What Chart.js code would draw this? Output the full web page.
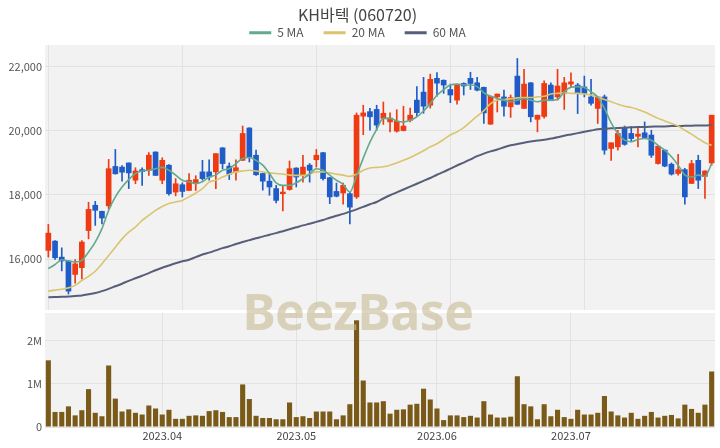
<!DOCTYPE html>
<html>
<head>
<meta charset="utf-8">
<script src="https://cdn.jsdelivr.net/npm/chart.js@4.4.1/dist/chart.umd.min.js"></script>
<style>
  html, body { margin: 0; padding: 0; background: #fff; }
  #wrap { position: relative; width: 720px; height: 448px; overflow: hidden; }
  #price { position: absolute; left: 0; top: 0; }
  #vol { position: absolute; left: 0; top: 312px; }
  #mark {
    position: absolute; left: 0; top: 280px; width: 716px; height: 62px;
    line-height: 62px; text-align: center; pointer-events: none;
    font-family: 'Noto Sans', sans-serif; font-weight: 700; font-size: 50px;
    color: rgba(200, 188, 150, 0.62); letter-spacing: -0.5px;
  }
</style>
</head>
<body>
<div id="wrap">
  <canvas id="price" width="720" height="312"></canvas>
  <canvas id="vol" width="720" height="136"></canvas>
  <div id="mark">BeezBase</div>
</div>
<script>
// Trading days, grouped by month
const marDays = [9,10,13,14,15,16,17,20,21,22,23,24,27,28,29,30,31];
const aprDays = [3,4,5,6,7,10,11,12,13,14,17,18,19,20,21,24,25,26,27,28];
const mayDays = [2,3,4,8,9,10,11,12,15,16,17,18,19,22,23,24,25,26,29,30,31];
const junDays = [1,2,5,7,8,9,12,13,14,15,16,19,20,21,22,23,26,27,28,29];
const julDays = [3,4,5,6,7,10,11,12,13,14,17,18,19,20,21,24,25,26,27,28,31];
const augDays = [1];

const pad2 = n => String(n).padStart(2, '0');
const dates = [
  ...marDays.map(d => '2023-03-' + pad2(d)),
  ...aprDays.map(d => '2023-04-' + pad2(d)),
  ...mayDays.map(d => '2023-05-' + pad2(d)),
  ...junDays.map(d => '2023-06-' + pad2(d)),
  ...julDays.map(d => '2023-07-' + pad2(d)),
  ...augDays.map(d => '2023-08-' + pad2(d))
];

// Month labels shown under the volume panel
const monthTicks = ['2023.04', '2023.05', '2023.06', '2023.07'];

// Daily OHLC (KRW)
const opens = [16270,16560,16060,15940,15520,15730,16890,17680,17490,17660,
  18890,18870,19000,18460,18790,18770,19340,18460,18930,18090,
  18320,18140,18350,18720,18720,18720,19470,18900,18720,19080,
  20090,19240,18670,18430,18200,18040,18170,18840,18610,18930,
  19100,19320,18540,18110,18060,18040,17940,20460,20600,20670,
  20390,20280,19990,20010,20330,20960,21210,20800,21640,21580,
  21290,20960,21480,21640,21500,21360,20210,21060,21060,20750,
  21710,20700,21500,20360,20450,21430,21060,21170,21460,21430,
  21370,21060,20700,21060,19450,19500,20080,19920,19830,19940,
  19870,18980,19400,18960,18670,18790,18360,19080,18580,19000];
const highs = [17080,16580,16350,15950,15980,16580,17770,17800,17500,19110,
  19420,18920,19000,18850,18850,19320,19350,19160,18950,18510,
  18380,18670,18600,19080,19100,19290,19480,19000,19100,20150,
  20100,19400,18680,18670,18300,18300,19060,18850,19240,18980,
  19420,19330,18550,18370,18370,18090,20560,20800,20700,20800,
  20900,20560,20660,20770,20710,21380,21670,21770,21820,21590,
  21460,21460,21500,21830,21670,21370,21090,21150,21270,21120,
  22260,21920,21510,20490,21560,21500,21920,21670,21810,21480,
  21710,21610,21060,21120,19630,20020,20150,20130,20110,20280,
  20020,19550,19410,19000,19270,18830,19080,19240,18750,20490];
const lows = [16060,15990,15630,14910,15250,15380,16630,17050,17100,17570,
  18650,18430,18200,18350,18300,18610,18610,18350,17990,17970,
  17940,18140,18140,18460,18460,18200,18820,18480,18460,19080,
  19030,18610,18150,17990,17750,17500,18150,18250,18400,18400,
  18870,18460,17730,17940,17710,17100,17890,19880,20020,20020,
  20200,19970,19960,20000,20280,20460,20550,20710,21080,21170,
  20880,20830,21120,21290,21250,20230,20200,20590,20460,20420,
  20830,20700,20280,19970,20400,20940,20960,20670,21380,20540,
  21060,20800,20230,19270,19080,19400,19550,19660,19500,19760,
  19170,18960,18880,18620,18620,17710,18350,18200,17890,18930];
const closes = [16810,16040,15940,15000,15850,16530,17550,17520,17280,18820,
  18660,18710,18690,18750,18730,19240,18610,19080,18040,18350,
  18110,18460,18480,18510,18560,19290,18980,18650,18850,19920,
  19190,18630,18430,18250,17830,18090,18820,18560,18870,18770,
  19240,18510,17940,17960,18300,17620,20490,20560,20440,20180,
  20550,20400,20300,20150,20490,20570,20770,21610,21490,21430,
  21120,21430,21400,21480,21270,20560,21080,21150,20770,21040,
  20830,21460,20440,20490,21480,20940,21400,21500,21530,21170,
  21170,20860,21060,19400,19630,19920,19580,19760,19900,19790,
  19240,19520,18900,18650,18790,17940,18980,18460,18750,20490];

// Moving averages of the close
const ma5 = [15700,15830,15980,15940,15910,15960,16220,16530,16950,17520,
  17940,18250,18480,18670,18750,18770,18820,18860,18770,18620,
  18460,18410,18360,18410,18560,18620,18770,18820,18980,19140,
  19170,19080,18930,18670,18380,18300,18300,18380,18510,18650,
  18820,18770,18620,18460,18330,18090,18600,19150,19650,20050,
  20390,20390,20310,20280,20330,20440,20620,20850,21110,21290,
  21430,21460,21430,21430,21380,21190,21080,21010,20960,20910,
  20960,21010,20960,20910,20960,20960,20980,21220,21360,21380,
  21350,21220,21060,20700,20250,19920,19710,19660,19730,19760,
  19710,19550,19400,19190,18930,18620,18560,18620,18580,18980];
const ma20 = [15000,15030,15060,15100,15180,15330,15460,15620,15850,16110,
  16370,16630,16840,17000,17210,17360,17520,17640,17730,17780,
  17830,17940,18060,18200,18400,18460,18560,18650,18720,18750,
  18770,18750,18720,18690,18670,18650,18620,18610,18610,18650,
  18720,18720,18690,18650,18620,18580,18650,18770,18840,18860,
  18880,18930,19000,19080,19170,19270,19380,19500,19600,19730,
  19870,19970,20100,20280,20460,20630,20850,20960,20980,21000,
  21030,21040,21040,21060,21080,21150,21170,21190,21170,21170,
  21150,21120,21060,20980,20910,20830,20770,20730,20670,20590,
  20490,20390,20310,20230,20150,20020,19900,19760,19630,19550];
const ma60 = [14810,14815,14820,14830,14850,14865,14900,14940,15000,15070,
  15150,15230,15320,15400,15480,15560,15650,15730,15800,15870,
  15930,15980,16060,16140,16200,16270,16340,16400,16470,16530,
  16590,16650,16700,16760,16810,16870,16930,16990,17050,17100,
  17160,17220,17290,17350,17410,17480,17550,17630,17710,17780,
  17890,17990,18080,18170,18260,18350,18440,18530,18630,18720,
  18820,18920,19010,19110,19210,19290,19360,19420,19490,19550,
  19590,19630,19670,19700,19720,19760,19800,19850,19890,19930,
  19970,20010,20050,20070,20080,20090,20100,20110,20120,20120,
  20130,20140,20140,20150,20150,20160,20160,20170,20170,20180];

// Daily traded volume (shares)
const volumes = [1550000,350000,350000,480000,270000,390000,880000,330000,250000,1430000,
  660000,360000,410000,330000,290000,500000,430000,290000,400000,190000,
  190000,260000,270000,260000,370000,390000,350000,230000,230000,990000,
  650000,260000,210000,210000,180000,180000,570000,230000,250000,210000,
  360000,360000,360000,180000,270000,530000,2480000,1080000,570000,570000,
  600000,310000,400000,410000,520000,540000,890000,640000,430000,160000,
  270000,270000,230000,260000,220000,600000,290000,220000,220000,240000,
  1180000,530000,480000,180000,530000,250000,400000,230000,190000,400000,
  290000,290000,330000,720000,360000,270000,220000,330000,190000,260000,
  350000,220000,260000,280000,200000,520000,420000,330000,520000,1290000];

const priceTicks = [16000, 18000, 20000, 22000];
const volumeTicks = [0, 1000000, 2000000];

const UP = '#ee3b14', DOWN = '#1f5cc8';
const GRID = '#e2e2e2';
const candleColors = closes.map((c, i) => (c >= opens[i] ? UP : DOWN));

Chart.defaults.font.family = "'Noto Sans CJK KR', 'Noto Sans', sans-serif";
Chart.defaults.color = '#555';

const plotBackground = {
  id: 'plotBackground',
  beforeDraw(chart) {
    const { ctx, chartArea: a } = chart;
    ctx.save();
    ctx.fillStyle = '#f2f2f2';
    ctx.fillRect(a.left, a.top, a.right - a.left, a.bottom - a.top);
    ctx.restore();
  }
};

const monthOf = i => dates[i].slice(0, 7).replace('-', '.');
const isMonthTick = i => i > 0 && i < dates.length &&
  monthOf(i) !== monthOf(i - 1) && monthTicks.includes(monthOf(i));

// fixed-width value axis that does not reserve room for half labels
const fitValueAxis = s => { s.width = 45; s.paddingTop = 0; s.paddingBottom = 0; };

const maLine = (label, data, color, width) => ({
  type: 'line', label, data, borderColor: color, backgroundColor: color,
  borderWidth: width, pointRadius: 0, fill: false, order: 0,
  cubicInterpolationMode: 'monotone'
});

new Chart(document.getElementById('price'), {
  type: 'bar',
  data: {
    labels: dates,
    datasets: [
      maLine('5 MA', ma5, '#63a98c', 1.6),
      maLine('20 MA', ma20, '#d8c56e', 1.6),
      maLine('60 MA', ma60, '#575e79', 2),
      {
        label: 'body', data: opens.map((o, i) => [o, closes[i]]),
        backgroundColor: candleColors, barThickness: 5, grouped: false,
        minBarLength: 1, order: 1
      },
      {
        label: 'wick', data: lows.map((l, i) => [l, highs[i]]),
        backgroundColor: candleColors, barThickness: 1, grouped: false, order: 2
      }
    ]
  },
  options: {
    responsive: false,
    animation: false,
    events: [],
    layout: { padding: { top: 5, right: 5, bottom: 2, left: 0 } },
    plugins: {
      title: {
        display: true, text: 'KH바텍 (060720)', color: '#444',
        font: { size: 16, weight: 'normal', lineHeight: 1.2 },
        padding: { top: 0, bottom: -17.5 }
      },
      legend: {
        display: true,
        maxHeight: 38.3,
        labels: {
          boxWidth: 22, boxHeight: 3, padding: 20, color: '#555',
          font: { size: 12 },
          generateLabels: chart => chart.data.datasets.slice(0, 3).map((d, i) => ({
            text: d.label, fillStyle: d.borderColor, strokeStyle: d.borderColor,
            lineWidth: 0, hidden: false, datasetIndex: i, fontColor: '#555'
          }))
        }
      },
      tooltip: { enabled: false }
    },
    scales: {
      x: {
        ticks: { display: false },
        grid: {
          offset: false, drawTicks: false,
          color: c => (c.index % 20 === 0 ? GRID : 'rgba(0,0,0,0)')
        },
        border: { display: false }
      },
      y: {
        min: 14410, max: 22680,
        afterBuildTicks: s => { s.ticks = priceTicks.map(v => ({ value: v })); },
        afterFit: fitValueAxis,
        ticks: {
          callback: v => v.toLocaleString('en-US'),
          color: '#555', font: { size: 11 }, padding: 3
        },
        grid: { color: GRID, drawTicks: false },
        border: { display: false }
      }
    }
  },
  plugins: [plotBackground]
});

new Chart(document.getElementById('vol'), {
  type: 'bar',
  data: {
    labels: dates,
    datasets: [{
      label: 'Volume', data: volumes, backgroundColor: '#7a5a18',
      categoryPercentage: 1, barPercentage: 0.76
    }]
  },
  options: {
    responsive: false,
    animation: false,
    events: [],
    layout: { padding: { top: 1, right: 5, bottom: 0, left: 0 } },
    plugins: { legend: { display: false }, tooltip: { enabled: false } },
    scales: {
      x: {
        afterFit: s => { s.height = 21; },
        ticks: {
          autoSkip: false, maxRotation: 0, minRotation: 0, padding: 2,
          color: '#444', font: { size: 11 },
          callback: (v, i) => (isMonthTick(i) ? monthOf(i) : '')
        },
        grid: {
          offset: false, drawTicks: false,
          color: c => (isMonthTick(c.index) ? GRID : 'rgba(0,0,0,0)')
        },
        border: { display: false }
      },
      y: {
        min: 0, max: 2650000,
        afterBuildTicks: s => { s.ticks = volumeTicks.map(v => ({ value: v })); },
        afterFit: fitValueAxis,
        ticks: {
          callback: v => (v === 0 ? '0' : (v / 1000000) + 'M'),
          color: '#555', font: { size: 11 }, padding: 3
        },
        grid: { color: GRID, drawTicks: false },
        border: { display: false }
      }
    }
  },
  plugins: [plotBackground]
});
</script>
</body>
</html>
